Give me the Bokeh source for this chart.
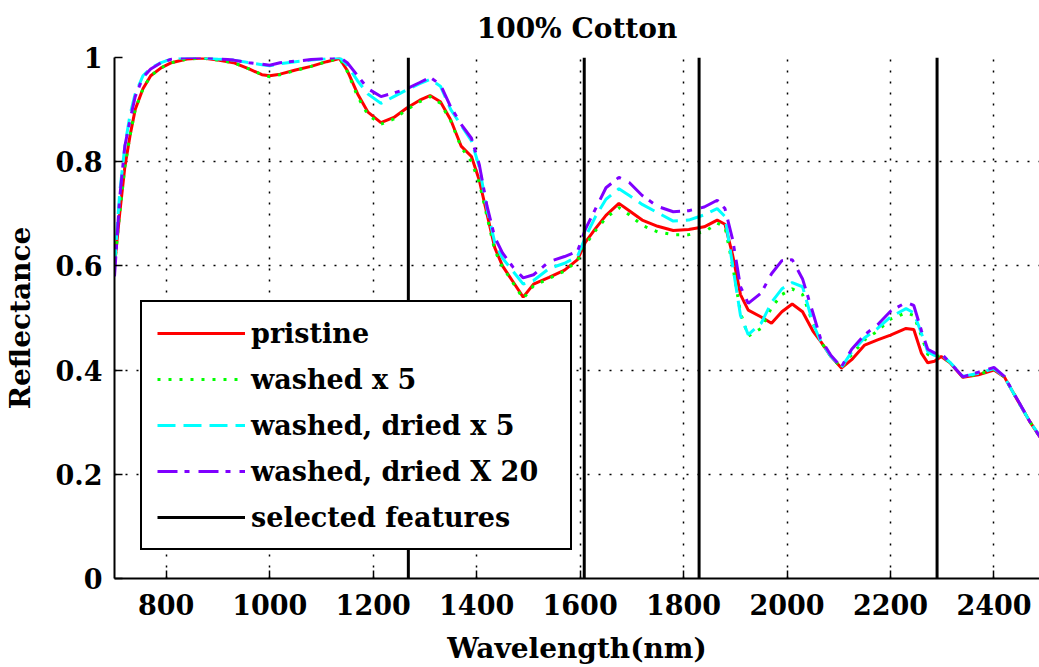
from bokeh.plotting import figure
from bokeh.models import Range1d, FixedTicker, NumeralTickFormatter, Legend, LegendItem
from bokeh.embed import file_html
from bokeh.resources import INLINE

# Reflectance spectra of a 100% cotton sample (wavelength in nm)
wavelength = [700, 710, 720, 730, 740, 755, 770, 790, 810, 840, 870, 900, 930, 960, 985,
              1000, 1020, 1050, 1080, 1110, 1135, 1150, 1170, 1190, 1215, 1240, 1265, 1290,
              1310, 1330, 1350, 1370, 1390, 1405, 1420, 1435, 1450, 1470, 1490, 1510, 1540,
              1570, 1595, 1610, 1630, 1650, 1675, 1695, 1720, 1750, 1780, 1810, 1840, 1865,
              1880, 1895, 1910, 1925, 1950, 1970, 1990, 2010, 2030, 2050, 2065, 2085, 2105,
              2125, 2150, 2175, 2200, 2230, 2245, 2260, 2272, 2285, 2298, 2315, 2340, 2370,
              2400, 2420, 2445, 2470, 2490]

pristine = [0.60, 0.70, 0.79, 0.85, 0.90, 0.94, 0.965, 0.98, 0.99, 0.997, 0.999, 0.995, 0.99,
            0.978, 0.967, 0.965, 0.968, 0.976, 0.983, 0.992, 0.998, 0.975, 0.93, 0.895, 0.875,
            0.885, 0.903, 0.918, 0.927, 0.915, 0.88, 0.83, 0.81, 0.765, 0.70, 0.635, 0.60,
            0.57, 0.54, 0.565, 0.578, 0.592, 0.612, 0.645, 0.672, 0.697, 0.72, 0.706, 0.688,
            0.676, 0.668, 0.67, 0.675, 0.688, 0.68, 0.62, 0.545, 0.515, 0.502, 0.49, 0.512,
            0.527, 0.512, 0.475, 0.455, 0.426, 0.404, 0.42, 0.448, 0.458, 0.467, 0.48, 0.478,
            0.432, 0.414, 0.417, 0.426, 0.414, 0.386, 0.391, 0.40, 0.387, 0.343, 0.30, 0.27]

washed_x5 = [0.60, 0.70, 0.79, 0.85, 0.90, 0.94, 0.965, 0.98, 0.99, 0.997, 0.999, 0.995, 0.99,
             0.978, 0.967, 0.963, 0.967, 0.975, 0.983, 0.992, 0.998, 0.973, 0.925, 0.89, 0.872,
             0.882, 0.90, 0.915, 0.925, 0.912, 0.878, 0.828, 0.80, 0.76, 0.695, 0.63, 0.598,
             0.568, 0.537, 0.562, 0.576, 0.59, 0.61, 0.64, 0.668, 0.692, 0.712, 0.698, 0.678,
             0.665, 0.66, 0.66, 0.665, 0.682, 0.675, 0.60, 0.51, 0.465, 0.48, 0.52, 0.545,
             0.556, 0.545, 0.49, 0.455, 0.426, 0.404, 0.43, 0.458, 0.475, 0.498, 0.51, 0.505,
             0.465, 0.43, 0.425, 0.428, 0.414, 0.387, 0.392, 0.401, 0.387, 0.343, 0.30, 0.27]

washed_dried_x5 = [0.60, 0.74, 0.83, 0.89, 0.93, 0.965, 0.98, 0.99, 0.997, 1.0, 1.0, 0.997,
                   0.995, 0.99, 0.986, 0.984, 0.988, 0.992, 0.995, 0.998, 1.0, 0.985, 0.955,
                   0.93, 0.912, 0.925, 0.938, 0.95, 0.958, 0.945, 0.90, 0.87, 0.84, 0.79, 0.71,
                   0.645, 0.615, 0.59, 0.565, 0.572, 0.595, 0.605, 0.618, 0.655, 0.695, 0.728,
                   0.748, 0.735, 0.718, 0.702, 0.686, 0.688, 0.698, 0.71, 0.695, 0.60, 0.505,
                   0.468, 0.49, 0.53, 0.556, 0.568, 0.56, 0.49, 0.455, 0.426, 0.405, 0.435,
                   0.462, 0.48, 0.502, 0.518, 0.51, 0.47, 0.435, 0.428, 0.43, 0.415, 0.388,
                   0.394, 0.403, 0.387, 0.343, 0.30, 0.272]

washed_dried_x20 = [0.58, 0.73, 0.83, 0.88, 0.925, 0.962, 0.978, 0.99, 0.997, 1.0, 1.0, 0.998,
                    0.995, 0.99, 0.987, 0.985, 0.99, 0.993, 0.996, 0.999, 1.0, 0.99, 0.965,
                    0.94, 0.925, 0.932, 0.94, 0.952, 0.962, 0.948, 0.905, 0.872, 0.845, 0.795,
                    0.715, 0.655, 0.625, 0.598, 0.577, 0.583, 0.608, 0.618, 0.628, 0.67, 0.71,
                    0.75, 0.77, 0.76, 0.735, 0.714, 0.704, 0.706, 0.713, 0.726, 0.71, 0.65,
                    0.56, 0.528, 0.548, 0.585, 0.61, 0.612, 0.575, 0.51, 0.46, 0.428, 0.406,
                    0.44, 0.468, 0.487, 0.513, 0.53, 0.524, 0.475, 0.44, 0.433, 0.432, 0.414,
                    0.387, 0.396, 0.405, 0.388, 0.344, 0.30, 0.27]

selected_features = [1268, 1608, 1830, 2290]

x_ticks = [800, 1000, 1200, 1400, 1600, 1800, 2000, 2200, 2400]
y_ticks = [0, 0.2, 0.4, 0.6, 0.8, 1]

FONT = "DejaVu Serif"

p = figure(width=1039, height=667, output_backend="svg", toolbar_location=None,
           x_range=Range1d(700, 2488), y_range=Range1d(0, 1),
           min_border_left=112, min_border_right=0, min_border_top=57, min_border_bottom=88,
           title="100% Cotton")

r_pristine = p.line(wavelength, pristine, line_color="#ff0000", line_width=3)
r_washed = p.line(wavelength, washed_x5, line_color="#00ff00", line_width=3, line_dash="3 8")
r_dried5 = p.line(wavelength, washed_dried_x5, line_color="#00ffff", line_width=3,
                  line_dash="18 8")
r_dried20 = p.line(wavelength, washed_dried_x20, line_color="#7f00ff", line_width=3,
                   line_dash="20 7 5 9")
r_features = p.segment(x0=selected_features, y0=0, x1=selected_features, y1=1,
                       line_color="black", line_width=3)

legend = Legend(items=[
    LegendItem(label="pristine", renderers=[r_pristine]),
    LegendItem(label="washed x 5", renderers=[r_washed]),
    LegendItem(label="washed, dried x 5", renderers=[r_dried5]),
    LegendItem(label="washed, dried X 20", renderers=[r_dried20]),
    LegendItem(label="selected features", renderers=[r_features]),
], location=(26, 28))
legend.glyph_width = 88
legend.glyph_height = 32
legend.label_height = 32
legend.spacing = 14
legend.padding = 15
legend.margin = 0
legend.label_standoff = 6
legend.label_width = 304
legend.label_text_font = FONT
legend.label_text_font_style = "bold"
legend.label_text_font_size = "27px"
legend.label_text_color = "black"
legend.border_line_color = "black"
legend.border_line_alpha = 1.0
legend.border_line_width = 2
legend.background_fill_color = "white"
legend.background_fill_alpha = 1.0
p.add_layout(legend)

p.title.text_font = FONT
p.title.text_font_style = "bold"
p.title.text_font_size = "28px"
p.title.align = "center"
p.title.vertical_align = "top"
p.title.text_color = "black"
p.title.standoff = 21
p.title.offset = 0

p.xaxis.ticker = FixedTicker(ticks=x_ticks)
p.yaxis.ticker = FixedTicker(ticks=y_ticks)
p.yaxis.formatter = NumeralTickFormatter(format="0.[0]")
p.xaxis.axis_label = "Wavelength(nm)"
p.yaxis.axis_label = "Reflectance"

for ax in (p.xaxis, p.yaxis):
    ax.axis_line_color = "black"
    ax.axis_line_width = 2
    ax.major_tick_line_color = "black"
    ax.major_tick_line_width = 1.5
    ax.major_tick_in = 8
    ax.major_tick_out = 0
    ax.minor_tick_line_color = None
    ax.major_label_text_font = FONT
    ax.major_label_text_font_style = "bold"
    ax.major_label_text_font_size = "27px"
    ax.major_label_text_color = "black"
    ax.axis_label_text_font = FONT
    ax.axis_label_text_font_style = "bold"
    ax.axis_label_text_font_size = "28px"
    ax.axis_label_text_color = "black"

p.xaxis.major_label_standoff = 15
p.yaxis.major_label_standoff = 12
p.xaxis.axis_label_standoff = 14
p.yaxis.axis_label_standoff = 16

p.grid.grid_line_color = "black"
p.grid.grid_line_dash = "2 9"
p.grid.grid_line_width = 1.5
p.grid.grid_line_alpha = 1.0
p.outline_line_color = None
p.background_fill_color = "white"
p.border_fill_color = "white"

open("out.html", "w").write(file_html(p, INLINE))
